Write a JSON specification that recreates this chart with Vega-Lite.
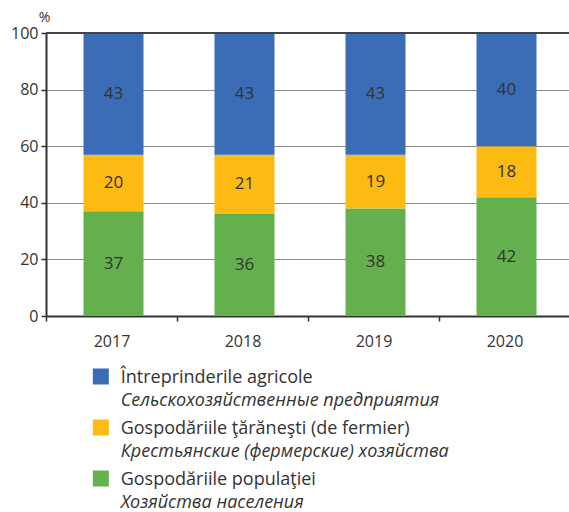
{
  "$schema": "https://vega.github.io/schema/vega-lite/v6.json",
  "padding": {"left": 10, "top": 10, "right": 0, "bottom": 0},
  "background": "white",
  "config": {
    "font": "Open Sans",
    "view": {"stroke": null},
    "concat": {"spacing": 2}
  },
  "datasets": {
    "shares": [
      {"year": "2017", "cat": "Gospodăriile populaţiei", "ord": 1, "value": 37},
      {"year": "2017", "cat": "Gospodăriile ţărăneşti (de fermier)", "ord": 2, "value": 20},
      {"year": "2017", "cat": "Întreprinderile agricole", "ord": 3, "value": 43},
      {"year": "2018", "cat": "Gospodăriile populaţiei", "ord": 1, "value": 36},
      {"year": "2018", "cat": "Gospodăriile ţărăneşti (de fermier)", "ord": 2, "value": 21},
      {"year": "2018", "cat": "Întreprinderile agricole", "ord": 3, "value": 43},
      {"year": "2019", "cat": "Gospodăriile populaţiei", "ord": 1, "value": 38},
      {"year": "2019", "cat": "Gospodăriile ţărăneşti (de fermier)", "ord": 2, "value": 19},
      {"year": "2019", "cat": "Întreprinderile agricole", "ord": 3, "value": 43},
      {"year": "2020", "cat": "Gospodăriile populaţiei", "ord": 1, "value": 42},
      {"year": "2020", "cat": "Gospodăriile ţărăneşti (de fermier)", "ord": 2, "value": 18},
      {"year": "2020", "cat": "Întreprinderile agricole", "ord": 3, "value": 40}
    ],
    "legend": [
      {"cat": "Întreprinderile agricole", "ro": "Întreprinderile agricole", "ru": "Сельскохозяйственные предприятия", "pos": 1},
      {"cat": "Gospodăriile ţărăneşti (de fermier)", "ro": "Gospodăriile ţărăneşti (de fermier)", "ru": "Крестьянские (фермерские) хозяйства", "pos": 2},
      {"cat": "Gospodăriile populaţiei", "ro": "Gospodăriile populaţiei", "ru": "Хозяйства населения", "pos": 3}
    ]
  },
  "resolve": {"scale": {"x": "independent", "y": "independent", "color": "shared"}},
  "vconcat": [
    {
      "width": 524,
      "height": 283,
      "data": {"name": "shares"},
      "transform": [
        {"stack": "value", "groupby": ["year"], "sort": [{"field": "ord"}], "as": ["y0", "y1"]},
        {"calculate": "(datum.y0 + datum.y1) / 2", "as": "mid"}
      ],
      "layer": [
        {
          "mark": {"type": "bar", "width": 60, "xOffset": 2},
          "encoding": {
            "x": {
              "field": "year", "type": "nominal", "title": null,
              "scale": {"paddingInner": 0, "paddingOuter": 0},
              "axis": {
                "labelAngle": 0, "labelFontSize": 16, "labelColor": "#333333",
                "tickBand": "extent", "tickColor": "#333333", "tickSize": 5, "tickWidth": 1.5,
                "domainColor": "#333333", "domainWidth": 2, "labelPadding": 12, "grid": false
              }
            },
            "y": {
              "field": "y0", "type": "quantitative", "title": "%",
              "scale": {"domain": [0, 100]},
              "axis": {
                "values": [0, 20, 40, 60, 80, 100], "labelFontSize": 16, "labelColor": "#333333",
                "tickColor": "#333333", "tickSize": 5, "tickWidth": 1.5,
                "domainColor": "#333333", "domainWidth": 2,
                "gridColor": "#8c8c8c", "gridWidth": 1.2, "labelPadding": 3,
                "titleAngle": 0, "titleFontSize": 14, "titleFontWeight": "normal", "titleColor": "#333333",
                "titleX": -2, "titleY": -16, "titleAlign": "center", "titleBaseline": "middle"
              }
            },
            "y2": {"field": "y1"},
            "color": {
              "field": "cat", "type": "nominal", "legend": null,
              "scale": {
                "domain": ["Întreprinderile agricole", "Gospodăriile ţărăneşti (de fermier)", "Gospodăriile populaţiei"],
                "range": ["#3a6db6", "#fdba13", "#64b04e"]
              }
            }
          }
        },
        {
          "mark": {"type": "rule", "color": "#444444", "strokeWidth": 1.5},
          "encoding": {"y": {"datum": 100}}
        },
        {
          "mark": {"type": "text", "fontSize": 17, "color": "#333333", "xOffset": 2},
          "encoding": {
            "x": {"field": "year", "type": "nominal"},
            "y": {"field": "mid", "type": "quantitative"},
            "text": {"field": "value", "type": "quantitative"}
          }
        }
      ]
    },
    {
      "width": 520,
      "height": 153,
      "data": {"name": "legend"},
      "encoding": {
        "y": {"field": "pos", "type": "ordinal", "axis": null, "scale": {"domain": [1, 2, 3]}}
      },
      "layer": [
        {
          "mark": {"type": "point", "shape": "square", "filled": true, "size": 256, "opacity": 1},
          "encoding": {
            "x": {"datum": 58, "type": "quantitative", "scale": {"domain": [0, 520]}, "axis": null},
            "color": {"field": "cat", "type": "nominal", "legend": null}
          }
        },
        {
          "mark": {"type": "text", "align": "left", "fontSize": 18, "color": "#333333", "dy": 1},
          "encoding": {
            "x": {"datum": 79, "type": "quantitative"},
            "text": {"field": "ro"}
          }
        },
        {
          "mark": {"type": "text", "align": "left", "fontSize": 18, "color": "#333333", "dy": 24, "fontStyle": "italic"},
          "encoding": {
            "x": {"datum": 79, "type": "quantitative"},
            "text": {"field": "ru"}
          }
        }
      ]
    }
  ]
}
